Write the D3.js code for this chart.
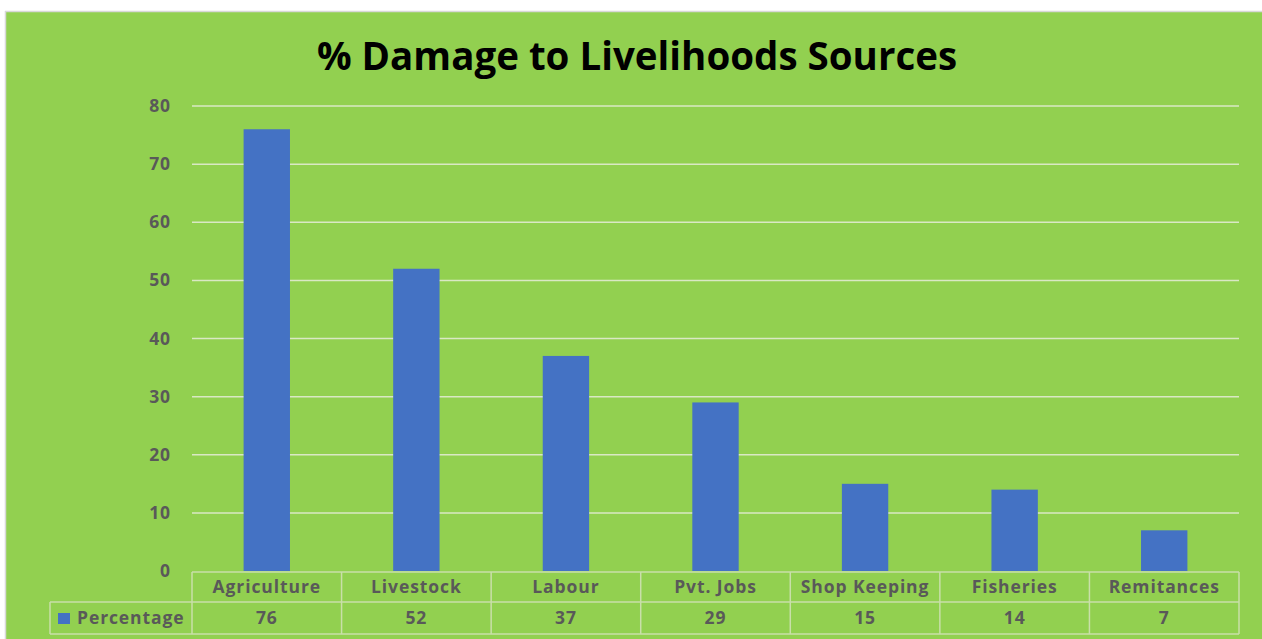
<!DOCTYPE html>
<html><head><meta charset="utf-8">
<script src="https://cdn.jsdelivr.net/npm/d3@7"></script>
<style>html,body{margin:0;padding:0;background:#fff;}svg{display:block;}</style>
</head><body>
<svg id="c" width="1262" height="639"></svg>
<script>
const categories = ["Agriculture","Livestock","Labour","Pvt. Jobs","Shop Keeping","Fisheries","Remitances"];
const values = [76,52,37,29,15,14,7];
const seriesName = "Percentage";
const yTicks = [0,10,20,30,40,50,60,70,80];
const title = "% Damage to Livelihoods Sources";

(function(){
const svg = d3.select("#c");
const green = "#92D050", blue = "#4472C4", grid = "#D9E8C4", txt = "#595959";
const font = "'Open Sans', 'DejaVu Sans', sans-serif";
const fs = "17.5px", ls = "0.9px";

svg.append("rect").attr("x",0).attr("y",0).attr("width",1262).attr("height",639).attr("fill","#fff");
svg.append("rect").attr("x",6).attr("y",12).attr("width",1256).attr("height",627).attr("fill",green);
svg.append("line").attr("x1",5).attr("x2",1262).attr("y1",11.5).attr("y2",11.5).attr("stroke","#d8d8d8").attr("stroke-width",1.5);
svg.append("line").attr("x1",5.5).attr("x2",5.5).attr("y1",11).attr("y2",639).attr("stroke","#d8d8d8").attr("stroke-width",1.5);

const pL = 192, pR = 1239, pT = 106, pB = 571;
const x = d3.scaleBand().domain(categories).range([pL,pR]).paddingInner(0).paddingOuter(0);
const y = d3.scaleLinear().domain([0,80]).range([pB, pT]);

svg.append("g").selectAll("line").data(yTicks.filter(d=>d>0)).join("line")
  .attr("x1",pL).attr("x2",pR).attr("y1",d=>y(d)).attr("y2",d=>y(d))
  .attr("stroke",grid).attr("stroke-width",1.5);

const yAxis = d3.axisLeft(y).tickValues(yTicks).tickSize(0).tickPadding(21);
const ya = svg.append("g").attr("transform",`translate(${pL},0)`).call(yAxis);
ya.select(".domain").remove();
ya.selectAll("text").attr("fill",txt).style("font-family",font).style("font-weight","700")
  .style("font-size",fs).style("letter-spacing",ls);

const bw = x.bandwidth()*0.31;
svg.append("g").selectAll("rect").data(values).join("rect")
  .attr("x",(d,i)=>x(categories[i])+x.bandwidth()/2-bw/2)
  .attr("width",bw)
  .attr("y",d=>y(d)).attr("height",d=>y(0)-y(d))
  .attr("fill",blue);

const t1 = 572, t2 = 602, t3 = 634, legX = 50;
const tg = svg.append("g");
function ln(x1,y1,x2,y2){tg.append("line").attr("x1",x1).attr("y1",y1).attr("x2",x2).attr("y2",y2).attr("stroke","#C9DFA9").attr("stroke-width",1.5);}
ln(pL,t1,pR,t1); ln(legX,t2,pR,t2); ln(legX,t3,pR,t3);
ln(legX,t2,legX,t3);
categories.forEach(c=>ln(x(c),t1,x(c),t3));
ln(pR,t1,pR,t3);

function styl(s){return s.attr("fill",txt).style("font-family",font).style("font-weight","700").style("font-size",fs).style("letter-spacing",ls);}
styl(tg.selectAll("text.cat").data(categories).join("text").attr("class","cat")
  .attr("x",d=>x(d)+x.bandwidth()/2).attr("y",(t1+t2)/2+6)
  .attr("text-anchor","middle").text(d=>d));
styl(tg.selectAll("text.val").data(values).join("text").attr("class","val")
  .attr("x",(d,i)=>x(categories[i])+x.bandwidth()/2).attr("y",(t2+t3)/2+6)
  .attr("text-anchor","middle").text(d=>d));
tg.append("rect").attr("x",58).attr("y",613).attr("width",12).attr("height",11).attr("fill",blue);
styl(tg.append("text").attr("x",77).attr("y",(t2+t3)/2+6).text(seriesName));

const tt = svg.append("text").attr("x",637).attr("y",70).attr("text-anchor","middle")
  .attr("fill","#000").style("font-family",font).style("font-weight","700").style("font-size","34px").text(title);
const w = tt.node().getComputedTextLength();
tt.style("font-size",(34*640/w).toFixed(1)+"px");
})();
</script>
</body></html>
